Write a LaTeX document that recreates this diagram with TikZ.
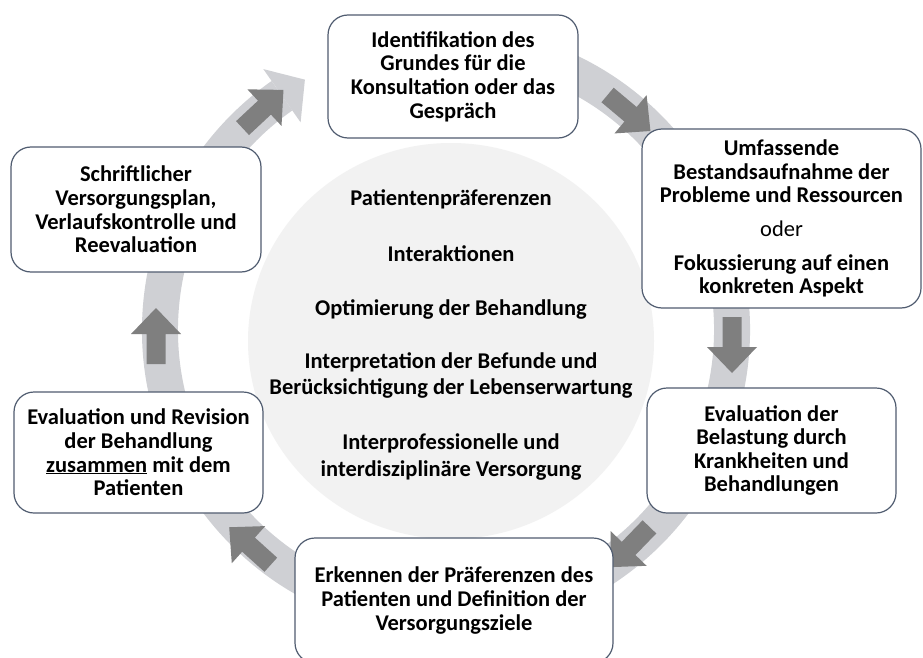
\documentclass[tikz,border=0pt]{standalone}
\usepackage{fontspec}
\setmainfont{Carlito}
\usetikzlibrary{calc}
\definecolor{ringc}{RGB}{207,208,212}
\definecolor{arrc}{RGB}{127,127,127}
\definecolor{circc}{RGB}{242,242,242}
\definecolor{bordc}{RGB}{80,92,112}
\tikzset{
  box/.style={draw=bordc, line width=1.2pt, fill=white, rounded corners=20pt,
    align=center, inner sep=0pt, font=\fontsize{22.5}{23.6}\selectfont\bfseries},
  ctext/.style={align=center, inner sep=0pt, font=\fontsize{22.5}{26.5}\selectfont\bfseries},
  blockarrow/.pic={\fill[arrc] (-28,-9.5) -- (2,-9.5) -- (2,-25) -- (28,0) -- (2,25) -- (2,9.5) -- (-28,9.5) -- cycle;}
}
\begin{document}
\begin{tikzpicture}[x=1pt,y=-1pt]
\useasboundingbox (0,0) rectangle (923,658);
\clip (0,0) rectangle (923,658);
\fill[white] (0,0) rectangle (923,658);
% ring
\coordinate (C) at (446,330);
\draw[ringc, line width=36pt] ($(C)+(-80:286)$) arc[start angle=-80, end angle=235, radius=286];
\fill[ringc] ($(C)+(235:318.5)$) -- ($(C)+(235:286)+(325:28)$) -- ($(C)+(235:253.5)$) -- cycle;
% central circle
\fill[circc] (451,341) ellipse[x radius=203, y radius=198];
% block arrows
\pic[rotate=43] (a1) at (263,109) {blockarrow};
\pic[rotate=-40] (a2) at (629,113) {blockarrow};
\pic[rotate=-90] (a3) at (732,345) {blockarrow};
\pic[rotate=-134] (a4) at (630,547) {blockarrow};
\pic[rotate=138] (a5) at (250,546) {blockarrow};
\pic[rotate=90] (a6) at (156,336) {blockarrow};
% boxes
\node[box, minimum width=250pt, minimum height=123pt] (idf) at (453,76.5)
  {Identifikation des\\Grundes für die\\Konsultation oder das\\Gespräch};
\node[box, minimum width=279pt, minimum height=179pt] (bestand) at (781.5,218.5)
  {Umfassende\\Bestandsaufnahme der\\Probleme und Ressourcen\\[10pt]{\mdseries oder}\\[10pt]Fokussierung auf einen\\konkreten Aspekt};
\node[box, minimum width=249pt, minimum height=125pt] (belast) at (771.5,450.5)
  {Evaluation der\\Belastung durch\\Krankheiten und\\Behandlungen};
\node[box, minimum width=318pt, minimum height=125pt] (praef) at (454,600.5)
  {Erkennen der Präferenzen des\\Patienten und Definition der\\Versorgungsziele};
\node[box, minimum width=249pt, minimum height=121pt] (revision) at (138.5,452.5)
  {Evaluation und Revision\\der Behandlung\\\underline{zusammen} mit dem\\Patienten};
\node[box, minimum width=250pt, minimum height=125pt] (plan) at (136,209.5)
  {Schriftlicher\\Versorgungsplan,\\Verlaufskontrolle und\\Reevaluation};
% central texts
\node[ctext] (t1) at (451,199) {Patientenpräferenzen};
\node[ctext] (t2) at (451,254) {Interaktionen};
\node[ctext] (t3) at (451,309) {Optimierung der Behandlung};
\node[ctext] (t4) at (451,375.5) {Interpretation der Befunde und\\Berücksichtigung der Lebenserwartung};
\node[ctext] (t5) at (451,457) {Interprofessionelle und\\interdisziplinäre Versorgung};
\end{tikzpicture}
\end{document}
